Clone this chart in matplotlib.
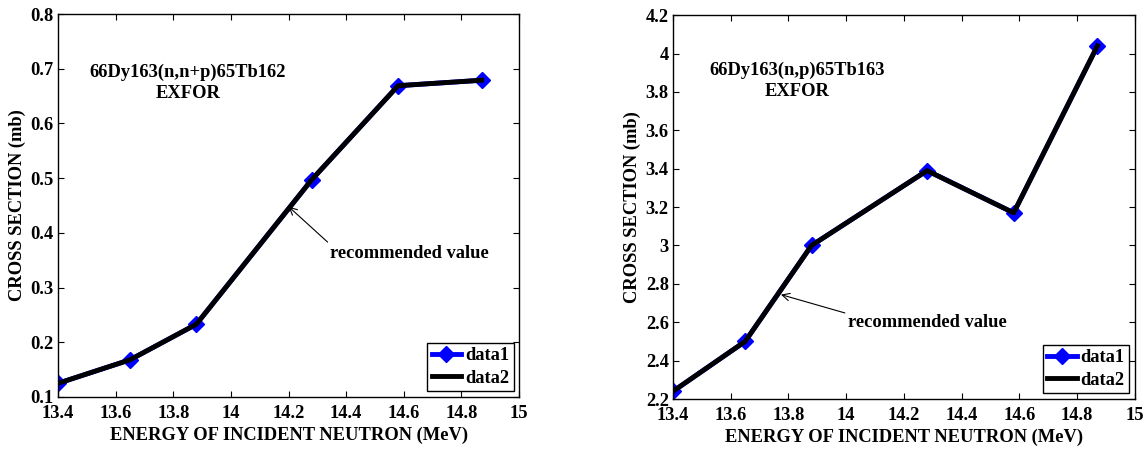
import numpy as np
import matplotlib.pyplot as plt

# energies (MeV) and cross sections (mb)
energy = [13.4, 13.65, 13.88, 14.28, 14.58, 14.87]
xs_nnp = [0.125, 0.168, 0.233, 0.497, 0.669, 0.679]
xs_np = [2.24, 2.50, 3.00, 3.39, 3.17, 4.04]

reactions = ["66Dy163(n,n+p)65Tb162", "66Dy163(n,p)65Tb163"]
ylims = [(0.1, 0.8), (2.2, 4.2)]
yticks = [np.round(np.arange(0.1, 0.81, 0.1), 1), np.round(np.arange(2.2, 4.21, 0.2), 1)]
xticks = [13.4, 13.6, 13.8, 14, 14.2, 14.4, 14.6, 14.8, 15]

# label / arrow placement in data coords: (title x, title y, exfor y, text xy, arrow head xy)
notes = [
    (13.85, 0.694, 0.655, (14.345, 0.363), (14.20, 0.448)),
    (13.83, 3.91, 3.80, (14.005, 2.60), (13.774, 2.744)),
]

plt.rcParams['font.family'] = ['Liberation Serif', 'DejaVu Serif']
plt.rcParams['font.weight'] = 'bold'
fs = 13.3

fig = plt.figure(figsize=(11.47, 4.5), dpi=100)
positions = [[0.0506, 0.1178, 0.402, 0.851], [0.5867, 0.1133, 0.4028, 0.853]]

for i, ys in enumerate([xs_nnp, xs_np]):
    ax = fig.add_axes(positions[i])
    ax.plot(energy, ys, color='blue', lw=3.5, marker='D', ms=8, label='data1')
    ax.plot(energy, ys, color='black', lw=3.5, label='data2')
    ax.set_xlim(13.4, 15)
    ax.set_ylim(*ylims[i])
    ax.set_xticks(xticks)
    ax.set_xticklabels([f"{t:g}" for t in xticks])
    ax.set_yticks(yticks[i])
    ax.set_yticklabels([f"{t:g}" for t in yticks[i]])
    ax.tick_params(direction='in', top=True, right=True, labelsize=fs, length=4, pad=3)
    ax.tick_params(axis='x', pad=6)
    for sp in ax.spines.values():
        sp.set_linewidth(1.0)
    ax.set_xlabel("ENERGY OF INCIDENT NEUTRON (MeV)", fontsize=fs, fontweight='bold', labelpad=3)
    ax.set_ylabel("CROSS SECTION (mb)", fontsize=fs, fontweight='bold', labelpad=3)

    tx, ty, ey, txt_xy, head_xy = notes[i]
    ax.text(tx, ty, reactions[i], ha='center', va='center', fontsize=fs, fontweight='bold')
    ax.text(tx, ey, "EXFOR", ha='center', va='center', fontsize=fs, fontweight='bold')
    ax.annotate("recommended value", xy=head_xy, xytext=txt_xy, fontsize=fs, fontweight='bold',
                ha='left', va='center',
                arrowprops=dict(arrowstyle='->', color='black', lw=0.8, shrinkA=0, shrinkB=0,
                                relpos=(0, 1)))

    leg = ax.legend(loc='lower right', fontsize=fs, fancybox=False, edgecolor='black',
                    framealpha=1, handlelength=1.6, borderpad=0.25, handletextpad=0.2,
                    labelspacing=0.3, borderaxespad=0.3)
    leg.get_frame().set_linewidth(1.0)

fig.savefig("out.png", dpi=100)
